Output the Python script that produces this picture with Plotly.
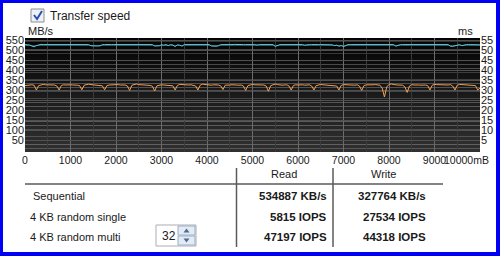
import plotly.graph_objects as go

# ---------------- data ----------------
x_mb = list(range(0, 10001, 50))

read_mbps = [
    527, 526, 525, 520, 516, 522, 527, 528, 527, 527,
    528, 527, 527, 527, 528, 527, 527, 529, 528, 527,
    527, 527, 528, 527, 527, 527, 527, 528, 527, 521,
    520, 520, 520, 521, 527, 527, 528, 527, 527, 527,
    527, 528, 527, 527, 527, 527, 528, 527, 527, 527,
    527, 527, 527, 528, 527, 527, 527, 520, 519, 521,
    526, 524, 527, 522, 527, 525, 517, 526, 524, 519,
    527, 527, 528, 527, 527, 527, 527, 528, 527, 527,
    527, 527, 520, 519, 519, 521, 527, 527, 527, 524,
    527, 527, 528, 527, 527, 527, 527, 527, 528, 527,
    527, 527, 525, 527, 527, 527, 527, 528, 527, 527,
    518, 522, 527, 527, 527, 528, 527, 527, 527, 527,
    527, 527, 527, 524, 527, 527, 527, 528, 527, 527,
    527, 527, 527, 527, 527, 526, 522, 524, 519, 522,
    517, 524, 527, 527, 527, 528, 527, 527, 527, 527,
    527, 527, 527, 528, 527, 527, 527, 527, 527, 527,
    527, 527, 527, 519, 523, 527, 527, 527, 528, 527,
    527, 527, 527, 527, 527, 527, 528, 527, 527, 527,
    527, 527, 527, 527, 527, 527, 527, 519, 518, 521,
    524, 527, 522, 525, 527, 527, 527, 527, 527, 527,
    526,
]

write_mbps = [
    322, 324, 325, 326, 324, 300, 322, 327, 328, 326,
    325, 326, 324, 325, 320, 300, 323, 326, 325, 327,
    326, 325, 326, 324, 322, 301, 324, 328, 329, 327,
    326, 325, 326, 325, 321, 301, 322, 325, 326, 325,
    326, 327, 325, 324, 325, 320, 298, 324, 329, 330,
    327, 326, 325, 324, 325, 323, 319, 295, 321, 325,
    326, 325, 324, 326, 325, 321, 300, 323, 328, 327,
    325, 324, 325, 326, 324, 320, 300, 324, 329, 327,
    326, 325, 324, 326, 327, 325, 321, 302, 324, 326,
    325, 326, 327, 325, 324, 325, 320, 298, 322, 327,
    328, 326, 325, 324, 326, 325, 320, 294, 322, 328,
    330, 327, 325, 324, 325, 326, 321, 300, 323, 326,
    325, 327, 326, 324, 325, 326, 320, 300, 322, 327,
    328, 326, 325, 324, 326, 325, 324, 320, 300, 323,
    327, 326, 325, 326, 325, 324, 326, 320, 298, 322,
    326, 325, 324, 326, 327, 325, 324, 310, 265, 315,
    328, 330, 327, 326, 325, 326, 324, 315, 288, 320,
    327, 325, 326, 325, 324, 326, 325, 322, 300, 324,
    328, 327, 326, 325, 324, 326, 325, 327, 320, 300,
    324, 328, 327, 326, 325, 326, 324, 325, 322, 300,
    310,
]

left_ticks = [50, 100, 150, 200, 250, 300, 350, 400, 450, 500, 550]
right_ticks = [5, 10, 15, 20, 25, 30, 35, 40, 45, 50, 55]
x_ticks = [0, 1000, 2000, 3000, 4000, 5000, 6000, 7000, 8000, 9000]
x_last_label = "10000mB"

row_labels = ["Sequential", "4 KB random single", "4 KB random multi"]
read_results = ["534887 KB/s", "5815 IOPS", "47197 IOPS"]
write_results = ["327764 KB/s", "27534 IOPS", "44318 IOPS"]
col_headers = ["Read", "Write"]
queue_depth = "32"
checkbox_label = "Transfer speed"

# ---------------- layout helpers ----------------
W, H = 500, 256
L, R, T, B = 25, 480, 38, 152


def fx(px):
    return (px - L) / (R - L)


def fy(py):
    return (B - py) / (B - T)


FONT = "Liberation Sans, Arial, sans-serif"
TXT = "#1a1a1a"

fig = go.Figure()
fig.add_trace(go.Scatter(x=x_mb, y=write_mbps, mode="lines",
                         line=dict(color="#f0a055", width=1), hoverinfo="skip"))
fig.add_trace(go.Scatter(x=x_mb, y=read_mbps, mode="lines",
                         line=dict(color="#52d6ee", width=1), hoverinfo="skip"))
fig.add_trace(go.Scatter(x=[None], y=[None], yaxis="y2", mode="lines",
                         hoverinfo="skip"))

shapes = []
# plot background gradient (black at top, dark grey at bottom)
N = 30
for i in range(N):
    t = i / (N - 1)
    c = int(round(4 + 44 * t))
    shapes.append(dict(type="rect", xref="x domain", yref="y domain",
                       x0=0, x1=1, y0=1 - (i + 1) / N, y1=1 - i / N,
                       fillcolor=f"rgb({c},{c},{c})", line=dict(width=0),
                       layer="below"))

# blue window border
BLUE = "#0000f4"
for (x0, y0, x1, y1) in [(0, 0, 3, H), (0, 0, W, 3), (W - 4, 0, W, H), (0, H - 4, W, H)]:
    shapes.append(dict(type="rect", xref="paper", yref="paper",
                       x0=fx(x0), x1=fx(x1), y0=fy(y1), y1=fy(y0),
                       fillcolor=BLUE, line=dict(width=0)))

# table lines
LINE = "#5a5a5a"
shapes.append(dict(type="line", xref="paper", yref="paper",
                   x0=fx(25), x1=fx(443), y0=fy(184), y1=fy(184),
                   line=dict(color=LINE, width=1.5)))
for vx in (236.5, 333):
    shapes.append(dict(type="line", xref="paper", yref="paper",
                       x0=fx(vx), x1=fx(vx), y0=fy(168), y1=fy(247),
                       line=dict(color=LINE, width=1.5)))

# checkbox
shapes.append(dict(type="rect", xref="paper", yref="paper",
                   x0=fx(31), x1=fx(44), y0=fy(22), y1=fy(9),
                   fillcolor="#eef1f5", line=dict(color="#8e8f8f", width=1)))
shapes.append(dict(type="path", xref="paper", yref="paper",
                   path=f"M {fx(34)},{fy(15)} L {fx(37)},{fy(19)} L {fx(42)},{fy(11)}",
                   line=dict(color="#2b4fb5", width=2)))

# spin box
shapes.append(dict(type="rect", xref="paper", yref="paper",
                   x0=fx(156), x1=fx(196), y0=fy(246), y1=fy(225),
                   fillcolor="white", line=dict(color="#abadb3", width=1)))
for (y0, y1) in [(226, 235), (236, 245)]:
    shapes.append(dict(type="rect", xref="paper", yref="paper",
                       x0=fx(178), x1=fx(195), y0=fy(y1), y1=fy(y0),
                       fillcolor="#e3ebf4", line=dict(color="#9aaec4", width=1)))
shapes.append(dict(type="path", xref="paper", yref="paper",
                   path=f"M {fx(183.5)},{fy(232.5)} L {fx(186.5)},{fy(228.5)} L {fx(189.5)},{fy(232.5)} Z",
                   fillcolor="#4d6b95", line=dict(width=0)))
shapes.append(dict(type="path", xref="paper", yref="paper",
                   path=f"M {fx(183.5)},{fy(238.5)} L {fx(186.5)},{fy(242.5)} L {fx(189.5)},{fy(238.5)} Z",
                   fillcolor="#4d6b95", line=dict(width=0)))

ann = []


def text(s, x, y, anchor="left", size=11, bold=False, color=TXT):
    ann.append(dict(text=f"<b>{s}</b>" if bold else s, xref="paper", yref="paper",
                    x=fx(x), y=fy(y), xanchor=anchor, yanchor="middle",
                    showarrow=False, font=dict(family=FONT, size=size, color=color)))


text(checkbox_label, 48, 16, size=12)
text("MB/s", 26, 31, size=11)
text("ms", 475, 31, anchor="right", size=11)
text(x_last_label, 491, 160, anchor="right", size=10.5)
text(col_headers[0], 284, 174, anchor="center", size=11)
text(col_headers[1], 383, 174, anchor="center", size=11)
rows_y = [196, 217, 237]
for i, lab in enumerate(row_labels):
    text(lab, 31 if i == 0 else 28, rows_y[i], size=11)
    text(read_results[i], 329, rows_y[i], anchor="right", size=11.5, bold=True)
    text(write_results[i], 428, rows_y[i], anchor="right", size=11.5, bold=True)
text(queue_depth, 160, 236, size=12)

fig.update_layout(
    width=W, height=H,
    margin=dict(l=L, r=W - R, t=T, b=H - B, pad=0, autoexpand=False),
    paper_bgcolor="white", plot_bgcolor="rgba(0,0,0,0)",
    showlegend=False,
    shapes=shapes, annotations=ann,
    xaxis=dict(range=[0, 10000], tickvals=x_ticks, ticktext=[str(v) for v in x_ticks],
               showgrid=True, gridcolor="#6c6c6c", gridwidth=1,
               minor=dict(dtick=500, showgrid=True, gridcolor="#3a3a3a", gridwidth=1),
               zeroline=False, showline=False, ticks="", automargin=False,
               tickfont=dict(family=FONT, size=10.5, color=TXT), fixedrange=True),
    yaxis=dict(range=[-10, 560], tickvals=left_ticks, ticktext=[str(v) for v in left_ticks],
               showgrid=True, gridcolor="#505050", gridwidth=1,
               zeroline=False, showline=False, ticks="", automargin=False,
               tickfont=dict(family=FONT, size=11, color=TXT), fixedrange=True),
    yaxis2=dict(range=[-1, 56], overlaying="y", side="right",
                tickvals=right_ticks, ticktext=[str(v) for v in right_ticks],
                showgrid=False, zeroline=False, showline=False, ticks="", automargin=False,
                tickfont=dict(family=FONT, size=11, color=TXT), fixedrange=True),
)

fig.write_html("out.html", config={"displayModeBar": False, "staticPlot": True})
